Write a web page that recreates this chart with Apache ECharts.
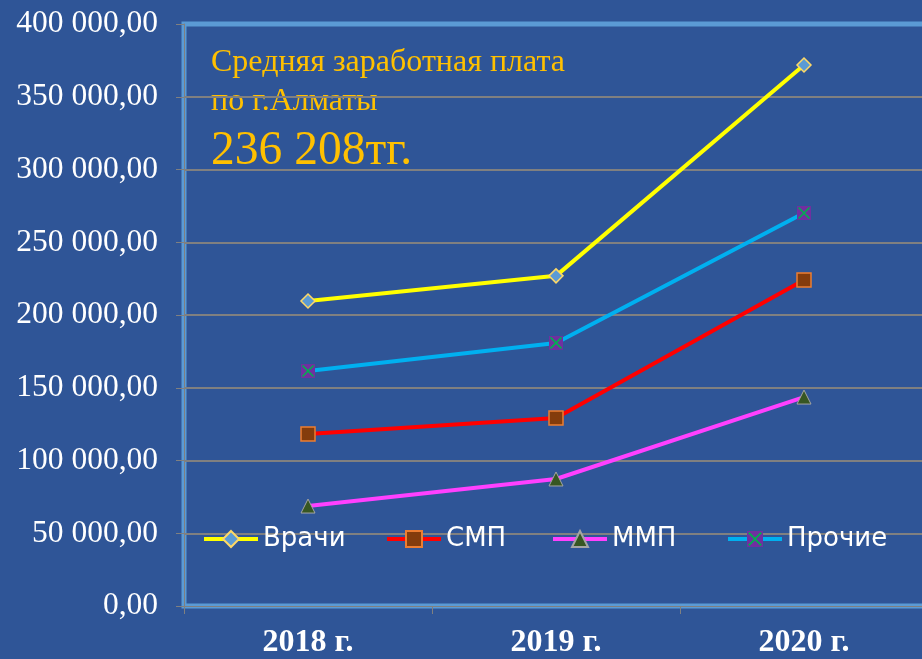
<!DOCTYPE html>
<html lang="ru">
<head>
<meta charset="utf-8" />
<title>Средняя заработная плата</title>
<script src="https://cdn.jsdelivr.net/npm/echarts@6/dist/echarts.min.js"></script>
<style>
  html, body { margin: 0; padding: 0; background: #2F5597; overflow: hidden; }
  #main { width: 932px; height: 659px; }
</style>
</head>
<body>
<div id="main"></div>
<script>
// годы
var years = ['2018 г.', '2019 г.', '2020 г.'];
// зарплаты по группам (тг.)
var vrachi = [209600, 226900, 371800];
var smp = [118200, 129200, 224100];
var mmp = [68700, 87300, 143600];
var prochie = [161500, 180800, 270100];
var seriesNames = ['Врачи', 'СМП', 'ММП', 'Прочие'];
var titleLines = ['Средняя заработная плата', 'по г.Алматы', '236 208тг.'];

// фиолетовый квадрат с зелёным крестиком
var xSvg = "<svg xmlns='http://www.w3.org/2000/svg' width='14' height='14'>" +
  "<rect x='0' y='0' width='14' height='14' fill='#7030A0'/>" +
  "<path d='M1.5 1.5L12.5 12.5M12.5 1.5L1.5 12.5' stroke='#00B050' stroke-width='1.6'/></svg>";
var xSymbol = 'image://data:image/svg+xml;charset=utf-8,' + encodeURIComponent(xSvg);

function fmt(v) {
  var s = String(Math.round(v)).replace(/\B(?=(\d{3})+(?!\d))/g, ' ');
  return s + ',00';
}

// область графика выходит за правый край окна, поэтому div шире окна
var chart = echarts.init(document.getElementById('main'));
var serif = '"Liberation Serif", "Times New Roman", serif';

// одна легенда на серию, чтобы поставить каждую на своё место
var legendLeft = [197, 380, 546, 721];
var legends = seriesNames.map(function (name, i) {
  return {
    data: [name],
    left: legendLeft[i],
    top: 521,
    itemWidth: 54,
    itemHeight: 20,
    lineStyle: { width: 4 },
    textStyle: { color: '#ffffff', fontSize: 26, fontFamily: '"DejaVu Sans", sans-serif' }
  };
});

var option = {
  backgroundColor: '#2F5597',
  animation: false,
  grid: {
    left: 184, top: 24, bottom: 53, right: 4,
    show: true,
    borderColor: '#5B9BD5',
    borderWidth: 5,
    backgroundColor: 'transparent'
  },
  legend: legends,
  xAxis: {
    type: 'category',
    data: years,
    axisLine: { lineStyle: { color: '#808080', width: 1 } },
    axisTick: { show: true, length: 8, lineStyle: { color: '#808080' } },
    axisLabel: {
      color: '#ffffff', fontSize: 32, fontWeight: 'bold',
      fontFamily: serif, margin: 21
    }
  },
  yAxis: {
    type: 'value',
    min: 0, max: 400000, interval: 50000,
    axisLine: { show: true, lineStyle: { color: '#808080', width: 1 } },
    axisTick: { show: true, length: 8, lineStyle: { color: '#808080' } },
    splitLine: { showMinLine: false, showMaxLine: false, lineStyle: { color: '#808080', width: 2 } },
    axisLabel: {
      color: '#ffffff', fontSize: 31.5, fontFamily: serif, margin: 26,
      padding: [4, 0, 0, 0],
      formatter: fmt
    }
  },
  graphic: [
    { type: 'text', left: 211, top: 47, style: { text: titleLines[0], fill: '#FFC000', font: '32px ' + serif } },
    { type: 'text', left: 211, top: 86, style: { text: titleLines[1], fill: '#FFC000', font: '32px ' + serif } },
    { type: 'text', left: 211, top: 128, style: { text: titleLines[2], fill: '#FFC000', font: '47.5px ' + serif } }
  ],
  series: [
    {
      name: seriesNames[0], type: 'line', data: vrachi,
      symbol: 'diamond', symbolSize: 14,
      lineStyle: { color: '#FFFF00', width: 4 },
      itemStyle: { color: '#5B9BD5', borderColor: '#FFD966', borderWidth: 1.5 }
    },
    {
      name: seriesNames[1], type: 'line', data: smp,
      symbol: 'rect', symbolSize: 14,
      lineStyle: { color: '#FF0000', width: 4 },
      itemStyle: { color: '#843C0C', borderColor: '#ED7D31', borderWidth: 1.5 }
    },
    {
      name: seriesNames[2], type: 'line', data: mmp,
      symbol: 'triangle', symbolSize: 14,
      lineStyle: { color: '#FF40FF', width: 4 },
      itemStyle: { color: '#375623', borderColor: '#A5A5A5', borderWidth: 1 }
    },
    {
      name: seriesNames[3], type: 'line', data: prochie,
      symbol: xSymbol, symbolSize: 14,
      lineStyle: { color: '#00B0F0', width: 4 },
      itemStyle: { color: '#7030A0' }
    }
  ]
};
chart.setOption(option);
</script>
</body>
</html>
